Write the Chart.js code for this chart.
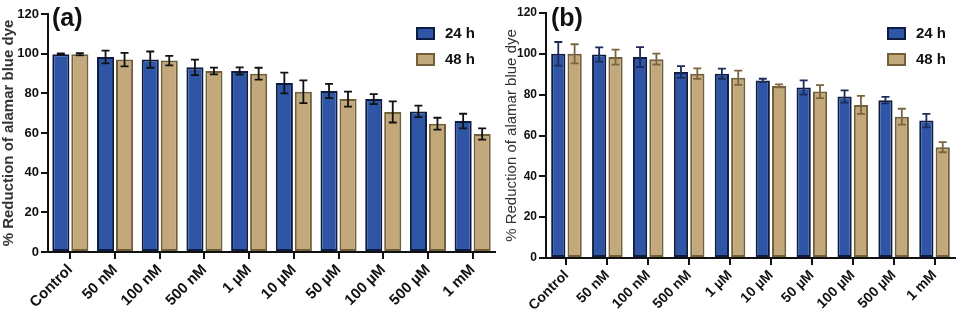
<!DOCTYPE html>
<html>
<head>
<meta charset="utf-8">
<script src="https://cdn.jsdelivr.net/npm/chart.js@4.4.1/dist/chart.umd.min.js"></script>
<style>
  body { margin: 0; background: #fff; }
  #wrap { position: relative; width: 958px; height: 317px; overflow: hidden; }
  #wrap canvas { position: absolute; top: 0; }
</style>
</head>
<body>
<div id="wrap">
  <canvas id="chartA" width="500" height="317" style="left:0"></canvas>
  <canvas id="chartB" width="480" height="317" style="left:478px"></canvas>
</div>
<script>
const labels = ['Control', '50 nM', '100 nM', '500 nM', '1 µM', '10 µM', '50 µM', '100 µM', '500 µM', '1 mM'];
const seriesNames = ['24 h', '48 h'];
const yTicks = [0, 20, 40, 60, 80, 100, 120];

// panel (a)
const a24 = [99.7, 98.3, 97.0, 93.1, 91.3, 85.2, 81.2, 77.1, 70.9, 66.0];
const a24err = [0.4, 3.2, 4.1, 3.9, 1.8, 5.2, 3.6, 2.5, 2.9, 3.7];
const a48 = [99.7, 97.0, 96.5, 91.3, 89.9, 80.8, 77.1, 70.6, 64.7, 59.5];
const a48err = [0.6, 3.4, 2.4, 1.7, 3.0, 5.7, 3.8, 5.3, 3.0, 2.8];

// panel (b)
const b24 = [100, 99.7, 98.4, 91.1, 90.3, 87.0, 83.5, 79.1, 77.3, 67.3];
const b24err = [5.8, 3.5, 4.9, 2.9, 2.5, 0.8, 3.5, 3.0, 1.6, 3.3];
const b48 = [100, 98.4, 97.4, 90.3, 88.3, 84.3, 81.5, 75.0, 69.2, 54.3];
const b48err = [4.7, 3.7, 2.7, 2.6, 3.5, 0.7, 3.2, 4.4, 3.9, 2.5];

const blue = '#2f56a6', blueEdge = '#0d1c40';
const tan = '#c2a87b', tanEdge = '#72603b';
const font = "'Liberation Sans', Arial, sans-serif";

// error bars + panel letter + legend, all from the chart's own scales/data
const extras = {
  id: 'extras',
  afterDatasetsDraw(chart, args, opts) {
    const ctx = chart.ctx;
    const y = chart.scales.y;
    chart.data.datasets.forEach((ds, di) => {
      const meta = chart.getDatasetMeta(di);
      ctx.save();
      ctx.strokeStyle = opts.errColors[di];
      ctx.lineWidth = 1.8;
      meta.data.forEach((bar, i) => {
        const v = ds.data[i], e = ds.err[i];
        const top = y.getPixelForValue(v + e), bot = y.getPixelForValue(v - e);
        ctx.beginPath();
        ctx.moveTo(bar.x, top); ctx.lineTo(bar.x, bot);
        ctx.moveTo(bar.x - opts.cap, top); ctx.lineTo(bar.x + opts.cap, top);
        ctx.moveTo(bar.x - opts.cap, bot); ctx.lineTo(bar.x + opts.cap, bot);
        ctx.stroke();
      });
      ctx.restore();
    });

    ctx.save();
    ctx.fillStyle = '#111';
    ctx.font = 'bold 25px ' + font;
    ctx.textBaseline = 'alphabetic';
    ctx.fillText(opts.letter, opts.letterX, 26);

    chart.data.datasets.forEach((ds, di) => {
      const by = opts.legY + di * 26;
      ctx.fillStyle = ds.backgroundColor;
      ctx.strokeStyle = ds.borderColor;
      ctx.lineWidth = 2;
      ctx.fillRect(opts.legX, by, 17, 11);
      ctx.strokeRect(opts.legX, by, 17, 11);
      ctx.fillStyle = '#111';
      ctx.font = 'bold 15px ' + font;
      ctx.textBaseline = 'middle';
      ctx.fillText(ds.label, opts.legX + 28, by + 6);
    });
    ctx.restore();
  }
};

function makeChart(id, d24, e24, d48, e48, cfg) {
  return new Chart(document.getElementById(id), {
    type: 'bar',
    data: {
      labels,
      datasets: [
        { label: seriesNames[0], data: d24, err: e24, backgroundColor: blue, borderColor: blueEdge,
          borderWidth: 2, borderSkipped: false },
        { label: seriesNames[1], data: d48, err: e48, backgroundColor: tan, borderColor: tanEdge,
          borderWidth: 2, borderSkipped: false }
      ]
    },
    options: {
      responsive: false,
      animation: false,
      datasets: { bar: { categoryPercentage: cfg.catPct, barPercentage: cfg.barPct } },
      layout: { padding: cfg.padding },
      plugins: {
        legend: { display: false },
        tooltip: { enabled: false },
        extras: cfg.extras
      },
      scales: {
        x: {
          ticks: { color: '#111', font: { family: font, size: cfg.xTickSize, weight: 'bold' },
                   minRotation: 45, maxRotation: 45, padding: 2 },
          grid: { offset: false, drawOnChartArea: false, color: '#111', lineWidth: 2, tickLength: 7 },
          border: { color: '#111', width: 2 },
          afterFit: s => { s.height = cfg.xHeight; }
        },
        y: {
          min: 0, max: 120,
          afterBuildTicks: s => { s.ticks = yTicks.map(v => ({ value: v })); },
          ticks: { color: '#111', font: { family: font, size: cfg.yTickSize, weight: 'bold' }, padding: 2 },
          grid: { drawOnChartArea: false, color: '#111', lineWidth: 2, tickLength: 7 },
          border: { color: '#111', width: 2 },
          title: { display: true, text: '% Reduction of alamar blue dye', color: '#333',
                   font: { family: font, size: cfg.titleSize, weight: cfg.titleWeight }, padding: 0 },
          afterFit: s => { s.width = cfg.yWidth; }
        }
      }
    },
    plugins: [extras]
  });
}

makeChart('chartA', a24, a24err, a48, a48err, {
  catPct: 0.85, barPct: 0.9,
  padding: { left: 0, right: 5, top: 14, bottom: 0 },
  xHeight: 65, yWidth: 48, xTickSize: 15, yTickSize: 13, titleSize: 15, titleWeight: 'bold',
  extras: { errColors: ['#111', '#111'], cap: 4, letter: '(a)', letterX: 52, legX: 417, legY: 28 }
});

makeChart('chartB', b24, b24err, b48, b48err, {
  catPct: 0.8, barPct: 0.87,
  padding: { left: 25, right: 3, top: 13, bottom: 0 },
  xHeight: 59, yWidth: 43, xTickSize: 14, yTickSize: 12, titleSize: 15, titleWeight: 'normal',
  extras: { errColors: ['#1b2b5c', '#7a6540'], cap: 4, letter: '(b)', letterX: 73, legX: 410, legY: 28 }
});
</script>
</body>
</html>
